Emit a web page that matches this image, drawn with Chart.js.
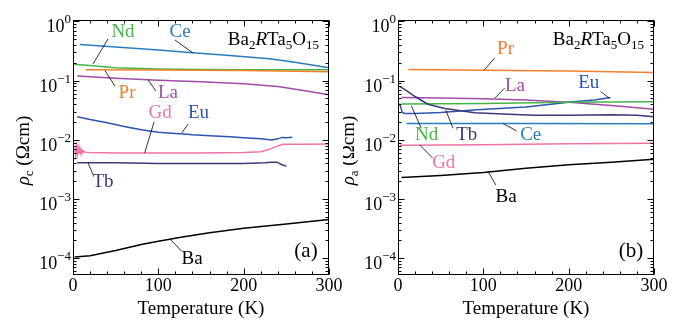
<!DOCTYPE html>
<html>
<head>
<meta charset="utf-8">
<script src="https://cdn.jsdelivr.net/npm/chart.js@4.4.1/dist/chart.umd.min.js"></script>
<style>
  html, body { margin: 0; padding: 0; background: #fff; }
  #wrap { position: relative; width: 687px; height: 321px; }
  canvas { position: absolute; top: 0; }
  #cvA { left: 0; }
  #cvB { left: 343px; }
</style>
</head>
<body>
<div id="wrap">
  <canvas id="cvA" width="343" height="321"></canvas>
  <canvas id="cvB" width="344" height="321"></canvas>
</div>
<script>
// ─── Datos ──────────────────────────────────────────────────────────────────
// (a) rho_c
const tCeA = [8, 50, 100, 140, 180, 230, 260, 300];
const rCeA = [0.41, 0.37, 0.33, 0.295, 0.27, 0.235, 0.205, 0.165];
const tNdA = [0, 20, 50, 100, 150, 200, 250, 300];
const rNdA = [0.19, 0.18, 0.165, 0.157, 0.154, 0.153, 0.153, 0.153];
const tPrA = [15, 100, 200, 300];
const rPrA = [0.153, 0.151, 0.148, 0.142];
const tLaA = [5, 50, 100, 150, 200, 240, 270, 300];
const rLaA = [0.12, 0.11, 0.102, 0.096, 0.089, 0.08, 0.068, 0.058];
const tEuA = [5, 20, 40, 60, 80, 100, 120, 130, 140, 160, 184, 200, 220, 233, 240, 245, 250, 257];
const rEuA = [0.0245, 0.022, 0.0195, 0.0168, 0.0148, 0.0135, 0.0128, 0.0126, 0.0122, 0.0117, 0.0113, 0.0109, 0.0104, 0.0099, 0.0104, 0.011, 0.0108, 0.0111];
const tGdA = [2, 3, 4, 5, 6, 7, 8, 9, 10, 11, 12, 14, 20, 50, 100, 150, 200, 220, 230, 240, 246, 270, 300];
const rGdA = [0.0072, 0.0056, 0.0078, 0.0057, 0.0075, 0.0058, 0.0072, 0.006, 0.0068, 0.006, 0.0065, 0.0062, 0.0061, 0.006, 0.006, 0.006, 0.0061, 0.0063, 0.0069, 0.0079, 0.0084, 0.0084, 0.0085];
const tTbA = [5, 50, 100, 150, 200, 225, 232, 239, 245, 250];
const rTbA = [0.0041, 0.0041, 0.004, 0.004, 0.004, 0.0041, 0.0042, 0.0042, 0.0038, 0.0036];
const tBaA = [2, 20, 50, 80, 100, 130, 160, 200, 250, 300];
const rBaA = [1.05e-4, 1.1e-4, 1.35e-4, 1.7e-4, 1.93e-4, 2.3e-4, 2.7e-4, 3.2e-4, 3.8e-4, 4.5e-4];

// (b) rho_a
const tPrB = [12, 100, 200, 300];
const rPrB = [0.155, 0.15, 0.145, 0.138];
const tLaB = [4, 50, 100, 150, 200, 250, 300];
const rLaB = [0.052, 0.051, 0.0495, 0.047, 0.043, 0.038, 0.033];
const tEuB = [2, 5, 8, 20, 50, 88, 150, 205, 230, 249];
const rEuB = [0.041, 0.029, 0.028, 0.028, 0.029, 0.032, 0.036, 0.044, 0.047, 0.052];
const tNdB = [4, 100, 200, 300];
const rNdB = [0.0405, 0.041, 0.043, 0.044];
const tTbB = [2, 10, 20, 35, 55, 90, 130, 160, 200, 250, 280, 300];
const rTbB = [0.08, 0.068, 0.054, 0.04, 0.034, 0.0288, 0.027, 0.026, 0.026, 0.0265, 0.026, 0.0245];
const tCeB = [10, 150, 300];
const rCeB = [0.0189, 0.0188, 0.0187];
const tGdB = [2, 100, 200, 300];
const rGdB = [0.0081, 0.0083, 0.0086, 0.0088];
const tBaB = [4, 50, 100, 150, 200, 250, 300];
const rBaB = [0.0023, 0.0025, 0.0028, 0.0033, 0.0038, 0.0042, 0.0047];

const xTicks = [0, 100, 200, 300];
const yDecades = [-4, -3, -2, -1, 0];

// ─── Estilo ─────────────────────────────────────────────────────────────────
const SERIF = '"Liberation Serif", "DejaVu Serif", serif';
const COLORS = {
  Ba: '#000000', La: '#a24ca8', Ce: '#2a7bbd', Pr: '#f47f2b',
  Nd: '#45b34a', Eu: '#2d55b0', Gd: '#ef72a8', Tb: '#3a3a78',
};
const Y_MIN = 5.2e-5, Y_MAX = 1.06;

const pts = (ts, rs) => ts.map((t, i) => ({ x: t, y: rs[i] }));
const ds = (name, ts, rs) => ({
  label: name, data: pts(ts, rs), borderColor: COLORS[name],
  borderWidth: 1.5, pointRadius: 0, tension: 0, fill: false,
});

// Dibuja texto con tramos (subíndices, cursivas, superíndices)
function drawRuns(ctx, runs, x, y, align) {
  let total = 0;
  for (const r of runs) {
    ctx.font = (r.italic ? 'italic ' : '') + r.size + 'px ' + SERIF;
    r.w = ctx.measureText(r.t).width;
    total += r.w;
  }
  let cx = align === 'right' ? x - total : align === 'center' ? x - total / 2 : x;
  ctx.textAlign = 'left';
  for (const r of runs) {
    ctx.font = (r.italic ? 'italic ' : '') + r.size + 'px ' + SERIF;
    ctx.fillText(r.t, cx, y + (r.dy || 0));
    cx += r.w;
  }
}

// ─── Plugin: marco, marcas interiores, etiquetas y anotaciones ─────────────
const panelDecor = {
  id: 'panelDecor',
  afterDatasetsDraw(chart, args, o) {
    const { ctx, chartArea: a, scales: { x, y } } = chart;
    ctx.save();
    ctx.fillStyle = '#000';
    ctx.strokeStyle = '#000';

    // líneas guía de etiquetas
    ctx.lineWidth = 0.8;
    for (const [x1, y1, x2, y2] of o.leaders) {
      ctx.beginPath();
      ctx.moveTo(x.getPixelForValue(x1), y.getPixelForValue(y1));
      ctx.lineTo(x.getPixelForValue(x2), y.getPixelForValue(y2));
      ctx.stroke();
    }

    // etiquetas de series
    ctx.textBaseline = 'middle';
    ctx.textAlign = 'center';
    ctx.font = '19px ' + SERIF;
    for (const l of o.labels) {
      ctx.fillStyle = COLORS[l.text];
      ctx.fillText(l.text, x.getPixelForValue(l.x), y.getPixelForValue(l.y));
    }

    // marco
    ctx.lineWidth = 1;
    ctx.strokeStyle = '#000';
    ctx.fillStyle = '#000';
    const L = Math.round(a.left) + 0.5, R = Math.round(a.right) - 0.5;
    const T = Math.round(a.top) + 0.5, B = Math.round(a.bottom) - 0.5;
    ctx.strokeRect(L, T, R - L, B - T);

    // marcas del eje x
    ctx.beginPath();
    for (let t = 0; t <= 300; t += 20) {
      const px = Math.round(x.getPixelForValue(t)) + 0.5;
      const len = t % 100 === 0 ? 6 : 3;
      ctx.moveTo(px, B); ctx.lineTo(px, B - len);
      ctx.moveTo(px, T); ctx.lineTo(px, T + len);
    }
    // marcas del eje y (log)
    for (let e = -5; e <= 0; e++) {
      for (let m = 1; m <= 9; m++) {
        const v = m * Math.pow(10, e);
        if (v < Y_MIN || v > Y_MAX) continue;
        const py = Math.round(y.getPixelForValue(v)) + 0.5;
        const len = m === 1 ? 6 : 3;
        ctx.moveTo(L, py); ctx.lineTo(L + len, py);
        ctx.moveTo(R, py); ctx.lineTo(R - len, py);
      }
    }
    ctx.stroke();

    // etiquetas x
    ctx.textBaseline = 'alphabetic';
    ctx.textAlign = 'center';
    ctx.font = '18px ' + SERIF;
    for (const t of xTicks) ctx.fillText(String(t), x.getPixelForValue(t), a.bottom + 16);
    ctx.font = '19px ' + SERIF;
    ctx.fillText('Temperature (K)', (a.left + a.right) / 2, a.bottom + 39);

    // etiquetas y: 10^n
    for (const e of yDecades) {
      const py = y.getPixelForValue(Math.pow(10, e));
      const sup = e < 0 ? '\u2212' + (-e) : String(e);
      ctx.font = '13px ' + SERIF;
      const sw = ctx.measureText(sup).width;
      ctx.textAlign = 'right';
      ctx.fillText(sup, a.left - 2, py + 2);
      ctx.font = '18px ' + SERIF;
      ctx.fillText('10', a.left - 2 - sw, py + 11);
    }

    // título del eje y
    ctx.save();
    ctx.translate(a.left - 44, (a.top + a.bottom) / 2 + 3);
    ctx.rotate(-Math.PI / 2);
    drawRuns(ctx, [
      { t: '\u03c1', size: 19, italic: true },
      { t: o.sub, size: 13, dy: 4 },
      { t: ' (\u03a9cm)', size: 19 },
    ], 0, 0, 'center');
    ctx.restore();

    // fórmula
    drawRuns(ctx, [
      { t: 'Ba', size: 19 }, { t: '2', size: 13, dy: 4 },
      { t: 'R', size: 19, italic: true }, { t: 'Ta', size: 19 },
      { t: '5', size: 13, dy: 4 }, { t: 'O', size: 19 }, { t: '15', size: 13, dy: 4 },
    ], a.right - 10, a.top + 25, 'right');

    // etiqueta del panel
    ctx.font = '21px ' + SERIF;
    ctx.textAlign = 'center';
    ctx.fillText(o.tag, a.right - 23, a.bottom - 18);

    ctx.restore();
  },
};

function makeChart(id, datasets, pad, decor) {
  return new Chart(document.getElementById(id), {
    type: 'line',
    data: { datasets },
    options: {
      responsive: false,
      animation: false,
      devicePixelRatio: 1,
      parsing: true,
      layout: { padding: pad },
      plugins: { legend: { display: false }, tooltip: { enabled: false }, panelDecor: decor },
      scales: {
        x: { type: 'linear', min: 0, max: 300, display: false },
        y: { type: 'logarithmic', min: Y_MIN, max: Y_MAX, display: false },
      },
    },
    plugins: [panelDecor],
  });
}

makeChart('cvA', [
  ds('Ba', tBaA, rBaA), ds('Tb', tTbA, rTbA), ds('Gd', tGdA, rGdA), ds('Eu', tEuA, rEuA),
  ds('La', tLaA, rLaA), ds('Pr', tPrA, rPrA), ds('Nd', tNdA, rNdA), ds('Ce', tCeA, rCeA),
], { left: 73, right: 14, top: 20, bottom: 46 }, {
  tag: '(a)', sub: 'c',
  labels: [
    { text: 'Nd', x: 58.6, y: 0.652 }, { text: 'Ce', x: 125.4, y: 0.652 },
    { text: 'Pr', x: 63.3, y: 0.062 }, { text: 'La', x: 111.3, y: 0.062 },
    { text: 'Gd', x: 102, y: 0.0284 }, { text: 'Eu', x: 147, y: 0.0284 },
    { text: 'Tb', x: 35.2, y: 0.00191 }, { text: 'Ba', x: 139.5, y: 9.8e-5 },
  ],
  leaders: [
    [41, 0.506, 23.4, 0.191], [119.5, 0.487, 140.6, 0.294],
    [37.5, 0.148, 49, 0.0814], [88, 0.104, 97, 0.067],
    [95, 0.0201, 84, 0.006], [127.5, 0.0131, 135, 0.0185],
    [17.6, 0.0041, 23.4, 0.00259], [113.7, 2.1e-4, 127.7, 1.3e-4],
  ],
});

makeChart('cvB', [
  ds('Ba', tBaB, rBaB), ds('Gd', tGdB, rGdB), ds('Ce', tCeB, rCeB), ds('Tb', tTbB, rTbB),
  ds('Nd', tNdB, rNdB), ds('Eu', tEuB, rEuB), ds('La', tLaB, rLaB), ds('Pr', tPrB, rPrB),
], { left: 55, right: 33, top: 20, bottom: 46 }, {
  tag: '(b)', sub: 'a',
  labels: [
    { text: 'Pr', x: 126, y: 0.343 }, { text: 'La', x: 137, y: 0.0814 },
    { text: 'Eu', x: 223.5, y: 0.0915 }, { text: 'Nd', x: 33.5, y: 0.0121 },
    { text: 'Tb', x: 80.6, y: 0.0121 }, { text: 'Ce', x: 155.5, y: 0.0121 },
    { text: 'Gd', x: 53.6, y: 0.00406 }, { text: 'Ba', x: 126.7, y: 0.00109 },
  ],
  leaders: [
    [113.3, 0.242, 100.9, 0.15], [125, 0.075, 113.4, 0.0506],
    [237.5, 0.0654, 247.6, 0.0506], [27.3, 0.0157, 15.7, 0.0375],
    [64.5, 0.0157, 56, 0.0317], [139, 0.0142, 123.2, 0.0188],
    [25.4, 0.0082, 40.7, 0.0049], [105.6, 0.0029, 114.6, 0.00173],
  ],
});
</script>
</body>
</html>
